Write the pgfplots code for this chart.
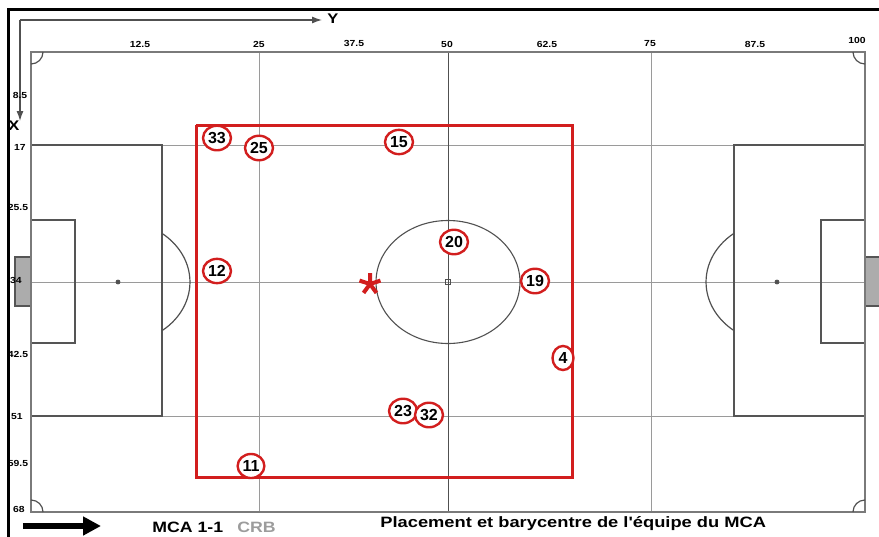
\documentclass[border=0pt]{standalone}
\usepackage{pgfplots}
\pgfplotsset{compat=1.18}
\usepackage{pgfplotstable}
\usepackage{fontspec}
\setmainfont{Liberation Sans}
\usetikzlibrary{shapes.geometric,arrows.meta}
\definecolor{mred}{HTML}{D21E1E}
\definecolor{gridcol}{HTML}{9A9A9A}
\definecolor{bordcol}{HTML}{7A7A7A}
\definecolor{boxcol}{HTML}{555555}
\definecolor{darkcol}{HTML}{505050}
\definecolor{crbcol}{HTML}{9C9C9C}
\newcommand\tl[1]{\scalebox{1.18}[1]{\fontsize{4.4}{5}\selectfont\bfseries #1}}
\pgfplotstableread{
x y label
217 138 33
259 148 25
399 142 15
217 271 12
454 242 20
535 281 19
563 358 4
403 411 23
429 415 32
251 466 11
}\players
\begin{document}
\begin{tikzpicture}
\begin{axis}[
  scale only axis, width=417pt, height=230pt,
  xmin=31, xmax=865, ymin=52, ymax=512, y dir=reverse,
  axis lines=none, clip=false,
]
\coordinate (BL) at (axis cs:0,536);
\coordinate (TR) at (axis cs:879,0);
% outer frame
\draw[black, line width=1.5pt] (axis cs:879,9.5) -- (axis cs:8.5,9.5) -- (axis cs:8.5,537);
% grid lines
\draw[gridcol, line width=0.5pt] (axis cs:259,52)--(axis cs:259,512);
\draw[gridcol, line width=0.5pt] (axis cs:651,52)--(axis cs:651,512);
\draw[gridcol, line width=0.5pt] (axis cs:31,145)--(axis cs:865,145);
\draw[gridcol, line width=0.5pt] (axis cs:31,282)--(axis cs:865,282);
\draw[gridcol, line width=0.5pt] (axis cs:31,416)--(axis cs:865,416);
% halfway line and centre circle
\draw[darkcol, line width=0.5pt] (axis cs:448,52)--(axis cs:448,512);
\draw[darkcol, line width=0.55pt] (axis cs:448,282) ellipse [x radius=36pt, y radius=30.75pt];
% penalty boxes
\draw[boxcol, line width=0.7pt] (axis cs:31,145) rectangle (axis cs:162,416);
\draw[boxcol, line width=0.7pt] (axis cs:734,145) rectangle (axis cs:865,416);
\draw[boxcol, line width=0.7pt] (axis cs:31,220) rectangle (axis cs:75,343);
\draw[boxcol, line width=0.7pt] (axis cs:821,220) rectangle (axis cs:865,343);
% penalty arcs
\draw[darkcol, line width=0.6pt] (axis cs:162,330.7) arc[start angle=-52.3, end angle=52.3, x radius=36pt, y radius=30.75pt];
\draw[darkcol, line width=0.6pt] (axis cs:734,233.3) arc[start angle=127.7, end angle=232.3, x radius=36pt, y radius=30.75pt];
% goals
\draw[boxcol, fill=gray!65, line width=0.6pt] (axis cs:15,257) rectangle (axis cs:31,306);
\draw[boxcol, fill=gray!65, line width=0.6pt] (axis cs:865,257) rectangle (axis cs:881,306);
% pitch border
\draw[bordcol, line width=0.8pt] (axis cs:31,52) rectangle (axis cs:865,512);
% corner arcs
\draw[darkcol, line width=0.6pt] (axis cs:43,52) arc[start angle=0, end angle=-90, radius=6pt];
\draw[darkcol, line width=0.6pt] (axis cs:853,52) arc[start angle=180, end angle=270, radius=6pt];
\draw[darkcol, line width=0.6pt] (axis cs:31,500) arc[start angle=90, end angle=0, radius=6pt];
\draw[darkcol, line width=0.6pt] (axis cs:865,500) arc[start angle=90, end angle=180, radius=6pt];
% spots
\addplot[only marks, mark=*, mark size=1pt, darkcol] coordinates {(118,282) (777,282)};
\addplot[only marks, mark=square, mark size=1.2pt, darkcol, line width=0.4pt] coordinates {(448,282)};
% team rectangle
\addplot[mred, line width=1.5pt, mark=none] coordinates {(196,125) (572,125) (572,477) (196,477) (196,125)};
% players
\addplot[only marks, mark=*, mark options={draw=none, fill=none},
  nodes near coords, point meta=explicit symbolic,
  nodes near coords style={anchor=center, ellipse, draw=mred, fill=white, line width=1.2pt,
    inner xsep=0.5pt, inner ysep=1.5pt, minimum width=10.5pt, text=black,
    font=\fontsize{8}{9}\selectfont\bfseries}]
  table[x=x, y=y, meta=label] {\players};
% barycentre
\addplot[only marks, mark=star, mark size=5.5pt, mred, line width=2pt] coordinates {(370,284)};
% top axes arrows
\draw[-{Latex[length=5pt,width=3.5pt]}, line width=0.6pt, darkcol] (axis cs:20,20)--(axis cs:322,20);
\draw[-{Latex[length=5pt,width=3.5pt]}, line width=0.6pt, darkcol] (axis cs:20,20)--(axis cs:20,121);
\node[inner sep=0pt] at (axis cs:333,19) {\scalebox{1.18}[1]{\fontsize{7}{8}\selectfont\bfseries Y}};
\node[inner sep=0pt] at (axis cs:14,126) {\scalebox{1.18}[1]{\fontsize{7}{8}\selectfont\bfseries X}};
% top tick labels
\node[inner sep=0pt] at (axis cs:140,44) {\tl{12.5}};
\node[inner sep=0pt] at (axis cs:259,44) {\tl{25}};
\node[inner sep=0pt] at (axis cs:354,43) {\tl{37.5}};
\node[inner sep=0pt] at (axis cs:447,44) {\tl{50}};
\node[inner sep=0pt] at (axis cs:547,44) {\tl{62.5}};
\node[inner sep=0pt] at (axis cs:650,44) {\tl{75}};
\node[inner sep=0pt] at (axis cs:755,44) {\tl{87.5}};
\node[inner sep=0pt] at (axis cs:857,40) {\tl{100}};
% left tick labels
\node[inner sep=0pt] at (axis cs:20,95) {\tl{8.5}};
\node[inner sep=0pt] at (axis cs:20,147) {\tl{17}};
\node[inner sep=0pt] at (axis cs:18,207) {\tl{25.5}};
\node[inner sep=0pt] at (axis cs:16,280) {\tl{34}};
\node[inner sep=0pt] at (axis cs:18,354) {\tl{42.5}};
\node[inner sep=0pt] at (axis cs:17,417) {\tl{51}};
\node[inner sep=0pt] at (axis cs:18,463) {\tl{59.5}};
\node[inner sep=0pt] at (axis cs:19,509) {\tl{68}};
% bottom
\draw[-{Triangle[length=9pt,width=9pt]}, line width=2.6pt, black] (axis cs:23,526)--(axis cs:101,526);
\node[inner sep=0pt, anchor=west] at (axis cs:152,527) {\scalebox{1.18}[1]{\fontsize{7.5}{8}\selectfont\bfseries MCA 1-1}};
\node[inner sep=0pt, anchor=west] at (axis cs:237,527) {\scalebox{1.18}[1]{\fontsize{7.5}{8}\selectfont\bfseries\color{crbcol} CRB}};
\node[inner sep=0pt, anchor=west] at (axis cs:380,524) {\scalebox{1.22}[1]{\fontsize{7.5}{8}\selectfont\bfseries Placement et barycentre de l\textquotesingle équipe du MCA}};
\end{axis}
\pgfresetboundingbox
\path[use as bounding box] (BL) rectangle (TR);
\end{tikzpicture}
\end{document}
